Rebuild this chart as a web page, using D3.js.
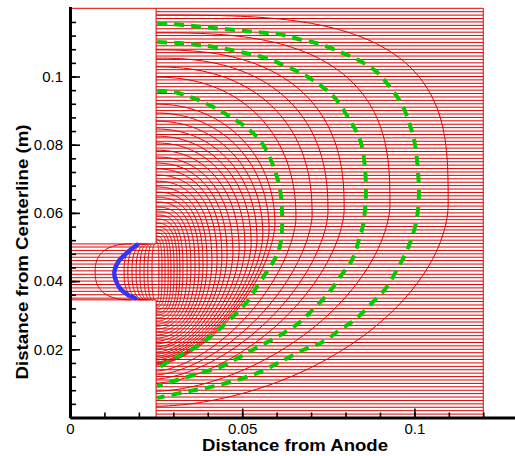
<!DOCTYPE html>
<html>
<head>
<meta charset="utf-8">
<script src="https://cdn.jsdelivr.net/npm/d3@7"></script>
<style>
  body { margin: 0; background: #fff; }
  svg { display: block; }
</style>
</head>
<body>
<div id="chart"></div>
<script>
const xMajorTicks = [0, 0.05, 0.1];
const yMajorTicks = [0.02, 0.04, 0.06, 0.08, 0.1];
const xMinorStep = 0.01;
const yMinorStep = 0.004;

// geometry of the domain (m)
const wallX = 0.025;
const rightX = 0.12;
const topY = 0.12;
const slotTop = 0.0509;
const slotBottom = 0.0345;
const gridStep = 0.001;

// contour arcs in the open region: [xMax, yTop at wall, y at xMax, yBottom at wall]
const openArcs = [
  [0.0258, 0.0515, 0.0427, 0.0339],
  [0.0267, 0.0523, 0.0427, 0.0330],
  [0.0276, 0.0532, 0.0428, 0.0324],
  [0.0285, 0.0541, 0.0428, 0.0315],
  [0.0293, 0.0550, 0.0428, 0.0306],
  [0.0302, 0.0559, 0.0430, 0.0301],
  [0.0311, 0.0570, 0.0431, 0.0292],
  [0.0319, 0.0582, 0.0433, 0.0283],
  [0.0328, 0.0594, 0.0434, 0.0274],
  [0.0340, 0.0605, 0.0437, 0.0268],
  [0.0351, 0.0617, 0.0438, 0.0260],
  [0.0363, 0.0632, 0.0441, 0.0251],
  [0.0375, 0.0646, 0.0444, 0.0242],
  [0.0386, 0.0661, 0.0447, 0.0233],
  [0.0398, 0.0676, 0.0452, 0.0224],
  [0.0412, 0.0693, 0.0456, 0.0216],
  [0.0427, 0.0711, 0.0462, 0.0207],
  [0.0441, 0.0729, 0.0468, 0.0201],
  [0.0456, 0.0746, 0.0475, 0.0192],
  [0.0473, 0.0764, 0.0482, 0.0186],
  [0.0491, 0.0784, 0.0491, 0.0180],
  [0.0508, 0.0805, 0.0500, 0.0174],
  [0.0526, 0.0825, 0.0510, 0.0169],
  [0.0543, 0.0846, 0.0521, 0.0163],
  [0.0560, 0.0869, 0.0535, 0.0160],
  [0.0578, 0.0893, 0.0550, 0.0157],
  [0.0595, 0.0919, 0.0567, 0.0154],
  [0.0656, 0.0998, 0.0585, 0.0136],
  [0.0703, 0.1028, 0.0594, 0.0125],
  [0.0749, 0.1054, 0.0603, 0.0113],
  [0.0796, 0.1078, 0.0609, 0.0101],
  [0.0929, 0.1128, 0.0623, 0.0077],
  [0.1098, 0.1180, 0.0623, 0.0033]
];

// contour arcs inside the slot: [x at centre, x at slot edges]
const slotArcs = [
  [0.0073, 0.0180],
  [0.0157, 0.0206],
  [0.0168, 0.0212],
  [0.0180, 0.0218],
  [0.0192, 0.0224],
  [0.0203, 0.0229],
  [0.0215, 0.0235],
  [0.0226, 0.0241],
  [0.0238, 0.0247]
];

const greenInner = [
  [0.0253, 0.0957], [0.0299, 0.0955], [0.0357, 0.0937], [0.0415, 0.0911],
  [0.0465, 0.0882], [0.0514, 0.0849], [0.0557, 0.0805], [0.0589, 0.0741],
  [0.0610, 0.0667], [0.0616, 0.0594], [0.0613, 0.0521], [0.0601, 0.0477],
  [0.0575, 0.0433], [0.0546, 0.0389], [0.0514, 0.0339], [0.0470, 0.0293],
  [0.0421, 0.0248], [0.0372, 0.0210], [0.0311, 0.0178], [0.0253, 0.0144]
];

const greenMiddle = [
  [0.0253, 0.1101], [0.0319, 0.1098], [0.0377, 0.1092], [0.0436, 0.1084],
  [0.0494, 0.1072], [0.0560, 0.1057], [0.0618, 0.1034], [0.0674, 0.1008],
  [0.0726, 0.0975], [0.0769, 0.0937], [0.0807, 0.0881], [0.0836, 0.0829],
  [0.0848, 0.0793], [0.0857, 0.0726], [0.0859, 0.0652], [0.0851, 0.0565],
  [0.0839, 0.0521], [0.0819, 0.0462], [0.0784, 0.0412], [0.0746, 0.0359],
  [0.0703, 0.0315], [0.0668, 0.0280], [0.0601, 0.0236], [0.0546, 0.0207],
  [0.0494, 0.0178], [0.0436, 0.0148], [0.0377, 0.0130], [0.0311, 0.0110],
  [0.0253, 0.0092]
];

const greenOuter = [
  [0.0253, 0.1154], [0.0290, 0.1154], [0.0357, 0.1148], [0.0415, 0.1142],
  [0.0485, 0.1136], [0.0543, 0.1130], [0.0604, 0.1125], [0.0662, 0.1110],
  [0.0726, 0.1095], [0.0784, 0.1072], [0.0836, 0.1049], [0.0891, 0.1013],
  [0.0929, 0.0969], [0.0964, 0.0917], [0.0987, 0.0858], [0.1002, 0.0799],
  [0.1010, 0.0726], [0.1013, 0.0652], [0.1005, 0.0573], [0.0979, 0.0491],
  [0.0949, 0.0433], [0.0920, 0.0383], [0.0877, 0.0336], [0.0833, 0.0292],
  [0.0784, 0.0257], [0.0732, 0.0221], [0.0677, 0.0198], [0.0610, 0.0163],
  [0.0543, 0.0130], [0.0465, 0.0104], [0.0398, 0.0087], [0.0334, 0.0075],
  [0.0253, 0.0057]
];

const blueArc = [
  [0.0194, 0.0506], [0.0169, 0.0486], [0.0140, 0.0457], [0.0129, 0.0428],
  [0.0131, 0.0408], [0.0145, 0.0379], [0.0169, 0.0359], [0.0189, 0.0350]
];

const width = 515;
const height = 456;
const red = '#dd0000';
const font = '"Liberation Sans", Arial, Helvetica, sans-serif';

const x = d3.scaleLinear().domain([0, 0.13]).range([70, 70 + 0.13 * 3444]);
const y = d3.scaleLinear().domain([0, 0.1205]).range([417.5, 417.5 - 0.1205 * 3410]);

const svg = d3.select('#chart')
  .append('svg')
  .attr('width', width)
  .attr('height', height);

const line = d3.line().x(d => x(d[0])).y(d => y(d[1]));
const smooth = d3.line().x(d => x(d[0])).y(d => y(d[1])).curve(d3.curveCatmullRom.alpha(0.5));

const plot = svg.append('g').attr('fill', 'none').attr('stroke', red).attr('stroke-width', 1);

// horizontal mesh lines
const openRows = d3.range(1, Math.round(topY / gridStep)).map(k => k * gridStep);
plot.selectAll('line.open')
  .data(openRows)
  .join('line')
  .attr('class', 'open')
  .attr('x1', x(wallX)).attr('x2', x(rightX))
  .attr('y1', d => y(d)).attr('y2', d => y(d));

const slotRows = openRows.filter(v => v > slotBottom && v < slotTop);
plot.selectAll('line.slot')
  .data(slotRows)
  .join('line')
  .attr('class', 'slot')
  .attr('x1', x(0)).attr('x2', x(wallX))
  .attr('y1', d => y(d)).attr('y2', d => y(d));

// open region contour arcs
function openArcPoints(arc) {
  const [xm, yt, ym, yb] = arc;
  const s = (xm - wallX) / 0.085;
  const nUp = 2 + 1.5 * Math.exp(-s * 8) + (s > 0.4 ? 2.0 * (s - 0.4) : 0);
  const nLo = 1.5 + 2 * Math.exp(-s * 8) + (s > 0.4 ? 0.5 * (s - 0.4) : 0);
  const pts = [];
  const steps = 80;
  for (let i = 0; i <= steps; i++) {
    const t = Math.PI / 2 * (1 - i / steps);
    pts.push([wallX + (xm - wallX) * Math.pow(Math.cos(t), 2 / nUp),
              ym + (yt - ym) * Math.pow(Math.sin(t), 2 / nUp)]);
  }
  for (let i = 1; i <= steps; i++) {
    const t = Math.PI / 2 * (i / steps);
    pts.push([wallX + (xm - wallX) * Math.pow(Math.cos(t), 2 / nLo),
              ym - (ym - yb) * Math.pow(Math.sin(t), 2 / nLo)]);
  }
  return pts;
}

plot.selectAll('path.arc')
  .data(openArcs)
  .join('path')
  .attr('class', 'arc')
  .attr('d', d => line(openArcPoints(d)));

// slot contour arcs
function slotArcPoints(arc) {
  const [xc, xe] = arc;
  const mid = (slotTop + slotBottom) / 2;
  const half = (slotTop - slotBottom) / 2;
  const n = 2.5;
  const pts = [];
  const steps = 40;
  for (let i = -steps; i <= steps; i++) {
    const t = Math.PI / 2 * (i / steps);
    const c = Math.pow(Math.cos(t), 2 / n);
    const sn = Math.pow(Math.abs(Math.sin(t)), 2 / n) * Math.sign(t);
    pts.push([xe - (xe - xc) * c, mid + half * sn]);
  }
  return pts;
}

plot.selectAll('path.slotarc')
  .data(slotArcs)
  .join('path')
  .attr('class', 'slotarc')
  .attr('d', d => line(slotArcPoints(d)));

// boundaries
const outline = [
  [[0, topY], [rightX, topY]],
  [[rightX, topY], [rightX, 0]],
  [[wallX, topY], [wallX, slotTop]],
  [[wallX, slotBottom], [wallX, 0]],
  [[0, slotTop], [wallX, slotTop]],
  [[0, slotBottom], [wallX, slotBottom]]
];
plot.selectAll('path.edge')
  .data(outline)
  .join('path')
  .attr('class', 'edge')
  .attr('d', line);

// green dashed contours
svg.append('g')
  .selectAll('path')
  .data([greenInner, greenMiddle, greenOuter])
  .join('path')
  .attr('fill', 'none')
  .attr('stroke', '#00cc00')
  .attr('stroke-width', 4)
  .attr('stroke-dasharray', '10,7')
  .attr('d', smooth);

// blue arc
svg.append('path')
  .datum(blueArc)
  .attr('fill', 'none')
  .attr('stroke', '#3535f5')
  .attr('stroke-width', 4.5)
  .attr('stroke-linecap', 'round')
  .attr('d', smooth);

// axes
const xAxis = svg.append('g')
  .attr('transform', `translate(0,${y(0)})`)
  .call(d3.axisBottom(x).tickValues(xMajorTicks).tickFormat(d3.format('~g'))
    .tickSizeInner(-9).tickSizeOuter(0).tickPadding(6));

svg.append('g')
  .attr('transform', `translate(0,${y(0)})`)
  .call(d3.axisBottom(x).tickValues(d3.range(0, 0.125, xMinorStep)).tickFormat('')
    .tickSizeInner(-5).tickSizeOuter(0))
  .call(g => g.select('.domain').remove());

const yAxis = svg.append('g')
  .attr('transform', `translate(${x(0)},0)`)
  .call(d3.axisLeft(y).tickValues(yMajorTicks).tickFormat(d3.format('~g'))
    .tickSizeInner(-10).tickSizeOuter(0).tickPadding(7));

svg.append('g')
  .attr('transform', `translate(${x(0)},0)`)
  .call(d3.axisLeft(y).tickValues(d3.range(0, 0.118, yMinorStep)).tickFormat('')
    .tickSizeInner(-6).tickSizeOuter(0))
  .call(g => g.select('.domain').remove());

svg.selectAll('.domain').attr('stroke', '#000').attr('stroke-width', 3);
svg.selectAll('.tick line').attr('stroke', '#000').attr('stroke-width', 1.6);
svg.selectAll('.tick text')
  .attr('fill', '#000')
  .attr('font-family', font)
  .attr('font-size', 15);

svg.append('text')
  .attr('x', 295)
  .attr('y', 450.5)
  .attr('text-anchor', 'middle')
  .attr('font-family', font)
  .attr('font-size', 16)
  .attr('font-weight', 'bold')
  .attr('textLength', 186)
  .attr('lengthAdjust', 'spacingAndGlyphs')
  .text('Distance from Anode');

svg.append('text')
  .attr('transform', 'translate(28,252) rotate(-90)')
  .attr('text-anchor', 'middle')
  .attr('font-family', font)
  .attr('font-size', 16)
  .attr('font-weight', 'bold')
  .attr('textLength', 255)
  .attr('lengthAdjust', 'spacingAndGlyphs')
  .text('Distance from Centerline (m)');
</script>
</body>
</html>
